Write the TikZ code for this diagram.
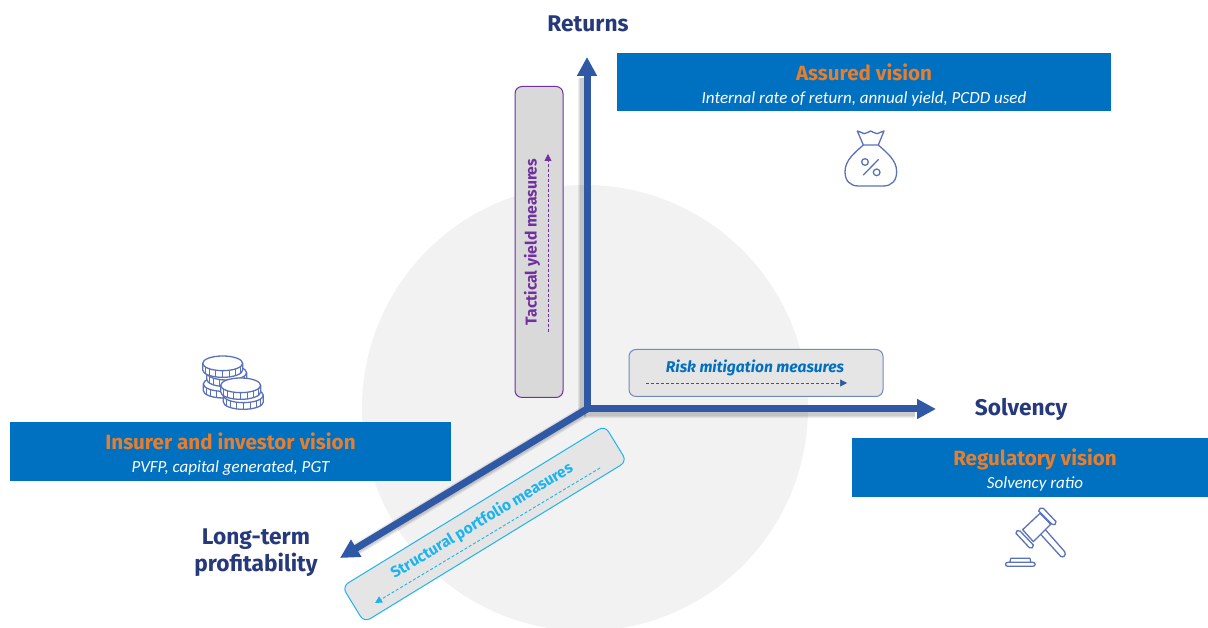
\documentclass[tikz,border=0pt]{standalone}
\usepackage{fontspec}
\setmainfont{Fira Sans}
\newfontfamily\subfont{Carlito}
\usetikzlibrary{arrows.meta}

\definecolor{visionblue}{HTML}{0070C0}
\definecolor{visionorange}{HTML}{E67E2E}
\definecolor{axisblue}{HTML}{3059A5}
\definecolor{labelblue}{HTML}{26397A}
\definecolor{iconblue}{HTML}{5B72B8}
\definecolor{tacticpurple}{HTML}{7030A0}
\definecolor{structcyan}{HTML}{1CB4EE}

\tikzset{
    visionbox/.style={fill=visionblue, inner sep=0pt},
    visionlabel/.style={inner sep=0pt, align=center, font=\fontsize{17}{23}\selectfont},
    axislabel/.style={text=labelblue, font=\fontsize{22.7}{27}\selectfont\bfseries, align=center},
    measurebox/.style={rounded corners=7pt, line width=1pt, inner sep=0pt},
    axisline/.style={axisblue, line width=7pt, -{Triangle[width=19pt,length=19pt]}},
    icon/.style={iconblue, line width=1.3pt, line join=round, line cap=round},
}
\newcommand{\visiontext}[2]{{\color{visionorange}\fontsize{20.6}{23}\selectfont\bfseries #1}\\{\color{white}\subfont\itshape\fontsize{17}{23}\selectfont #2}}
\newcommand{\coin}[2]{%
    \draw[icon, fill=white] (#1-60,#2) -- ++(0,20) arc[start angle=180, end angle=0, x radius=60, y radius=22] -- ++(0,-20);
    \foreach \a in {30,50,...,150}
        \draw[icon, line width=0.9pt] ({#1+60*cos(\a)},{#2+22*sin(\a)}) -- ++(0,20);
    \draw[icon, fill=white] (#1,#2) ellipse[x radius=60, y radius=22];
}

\begin{document}
\begin{tikzpicture}[x=1pt,y=1pt]
    \useasboundingbox (0,0) rectangle (1208,628);
    \fill[black!5] (585,220) circle (223);

    \coordinate (O) at (587,219);
    \coordinate (returnsEnd) at (587,571);
    \coordinate (solvencyEnd) at (936,219);
    \coordinate (profitEnd) at (340,70);

    % soft shadow below the axes
    \foreach \w in {12,10,8}
        \foreach \e in {returnsEnd,solvencyEnd,profitEnd}
            \draw[black, opacity=0.07, line width=\w pt, shorten >=18pt] ([shift={(-3,-3)}]O) -- ([shift={(-3,-3)}]\e);

    % measure boxes
    \node[measurebox, draw=tacticpurple, fill=black!15, minimum width=48pt, minimum height=311pt] (tacticbox) at (539,386) {};
    \node[rotate=90, text=tacticpurple, font=\fontsize{15.7}{18}\selectfont\bfseries] (tactictext) at (532,386) {Tactical yield measures};
    \coordinate (tacticA) at (548,296);
    \coordinate (tacticB) at (548,474);
    \draw[tacticpurple, densely dashed, line width=0.8pt, -{Triangle[width=7pt,length=7pt]}] (tacticA) -- (tacticB);

    \node[measurebox, draw=axisblue!70, fill=black!10, minimum width=254pt, minimum height=47pt] (riskbox) at (756,255) {};
    \node[text=visionblue, font=\fontsize{15.6}{18}\selectfont\bfseries\itshape] (risktext) at (755,260) {Risk mitigation measures};
    \coordinate (riskA) at (646,245);
    \coordinate (riskB) at (847,245);
    \draw[axisblue, densely dashed, line width=0.7pt, -{Triangle[width=7pt,length=7pt]}] (riskA) -- (riskB);

    \node[measurebox, draw=structcyan, fill=black!10, rotate=31.5, minimum width=308pt, minimum height=42pt] (structbox) at (484.5,104) {};
    \node[rotate=31, text=structcyan, font=\fontsize{15.5}{18}\selectfont\bfseries] (structtext) at (482,107) {Structural portfolio measures};
    \coordinate (structA) at (600,160);
    \coordinate (structB) at (375,25);
    \draw[structcyan, densely dashed, line width=0.9pt, -{Triangle[width=7pt,length=7pt]}] (structA) -- (structB);

    % axes
    \draw[axisline] (O) -- (returnsEnd);
    \draw[axisline] (O) -- (solvencyEnd);
    \draw[axisline] (O) -- (profitEnd);

    \node[axislabel] (returns) at (588,604) {Returns};
    \node[axislabel] (solvency) at (1021,219) {Solvency};
    \node[axislabel] (profit) at (256,75) {Long-term\\profitability};

    % vision boxes
    \node[visionbox, minimum width=494pt, minimum height=58pt] (assured) at (864,546) {};
    \node[visionlabel] (assuredtext) at (864,543)
        {\visiontext{Assured vision}{Internal rate of return, annual yield, PCDD used}};
    \node[visionbox, minimum width=441pt, minimum height=59pt] (insurer) at (230.5,176.5) {};
    \node[visionlabel] (insurertext) at (230.5,173.5)
        {\visiontext{Insurer and investor vision}{PVFP, capital generated, PGT}};
    \node[visionbox, minimum width=366pt, minimum height=59pt] (regulatory) at (1035,160.5) {};
    \node[visionlabel] (regulatorytext) at (1035,157.5)
        {\visiontext{Regulatory vision}{Solvency ratio}};

    % money bag
    \begin{scope}[shift={(800,518)}, x=0.3333pt, y=-0.3333pt]
        \draw[icon] (190,105) -- (172,63) .. controls (182,66) and (186,68) .. (192,71)
            .. controls (200,70) and (205,66) .. (212,63) .. controls (218,66) and (224,70) .. (232,71)
            .. controls (238,68) and (244,66) .. (252,63) -- (235,105) -- cycle;
        \draw[icon] (190,105) .. controls (165,128) and (135,150) .. (135,185)
            .. controls (135,212) and (150,228) .. (175,228) -- (250,228)
            .. controls (275,228) and (290,212) .. (290,185) .. controls (290,150) and (260,128) .. (235,105);
        \draw[icon] (235,149) -- (190,195);
        \draw[icon] (195,156) circle (10);
        \draw[icon] (230,187) circle (10);
    \end{scope}

    % coins
    \begin{scope}[shift={(180,288)}, x=0.3333pt, y=-0.3333pt]
        \coin{130}{132}
        \coin{140}{98}
        \coin{128}{70}
        \coin{190}{166}
        \coin{182}{136}
    \end{scope}

    % gavel
    \begin{scope}[shift={(990,133)}, x=0.3333pt, y=-0.3333pt]
        \draw[icon] (152,118) -- (212,184) .. controls (220,190) and (230,180) .. (224,170) -- (166,104);
        \draw[icon, fill=white] (98,104) -- (150,55) -- (182,88) -- (130,140) -- cycle;
        \draw[icon, fill=white] (78,115) .. controls (76,108) and (84,104) .. (90,108) -- (130,150)
            .. controls (132,158) and (124,162) .. (118,158) -- cycle;
        \draw[icon, fill=white] (146,48) .. controls (146,40) and (154,36) .. (160,40) -- (198,80)
            .. controls (200,88) and (192,92) .. (186,88) -- cycle;
        \draw[icon] (60,202) -- (62,190) -- (120,190) -- (122,202);
        \draw[icon] (54,202) -- (128,202) .. controls (138,202) and (138,214) .. (128,214)
            -- (54,214) .. controls (44,214) and (44,202) .. (54,202) -- cycle;
    \end{scope}
\end{tikzpicture}
\end{document}
